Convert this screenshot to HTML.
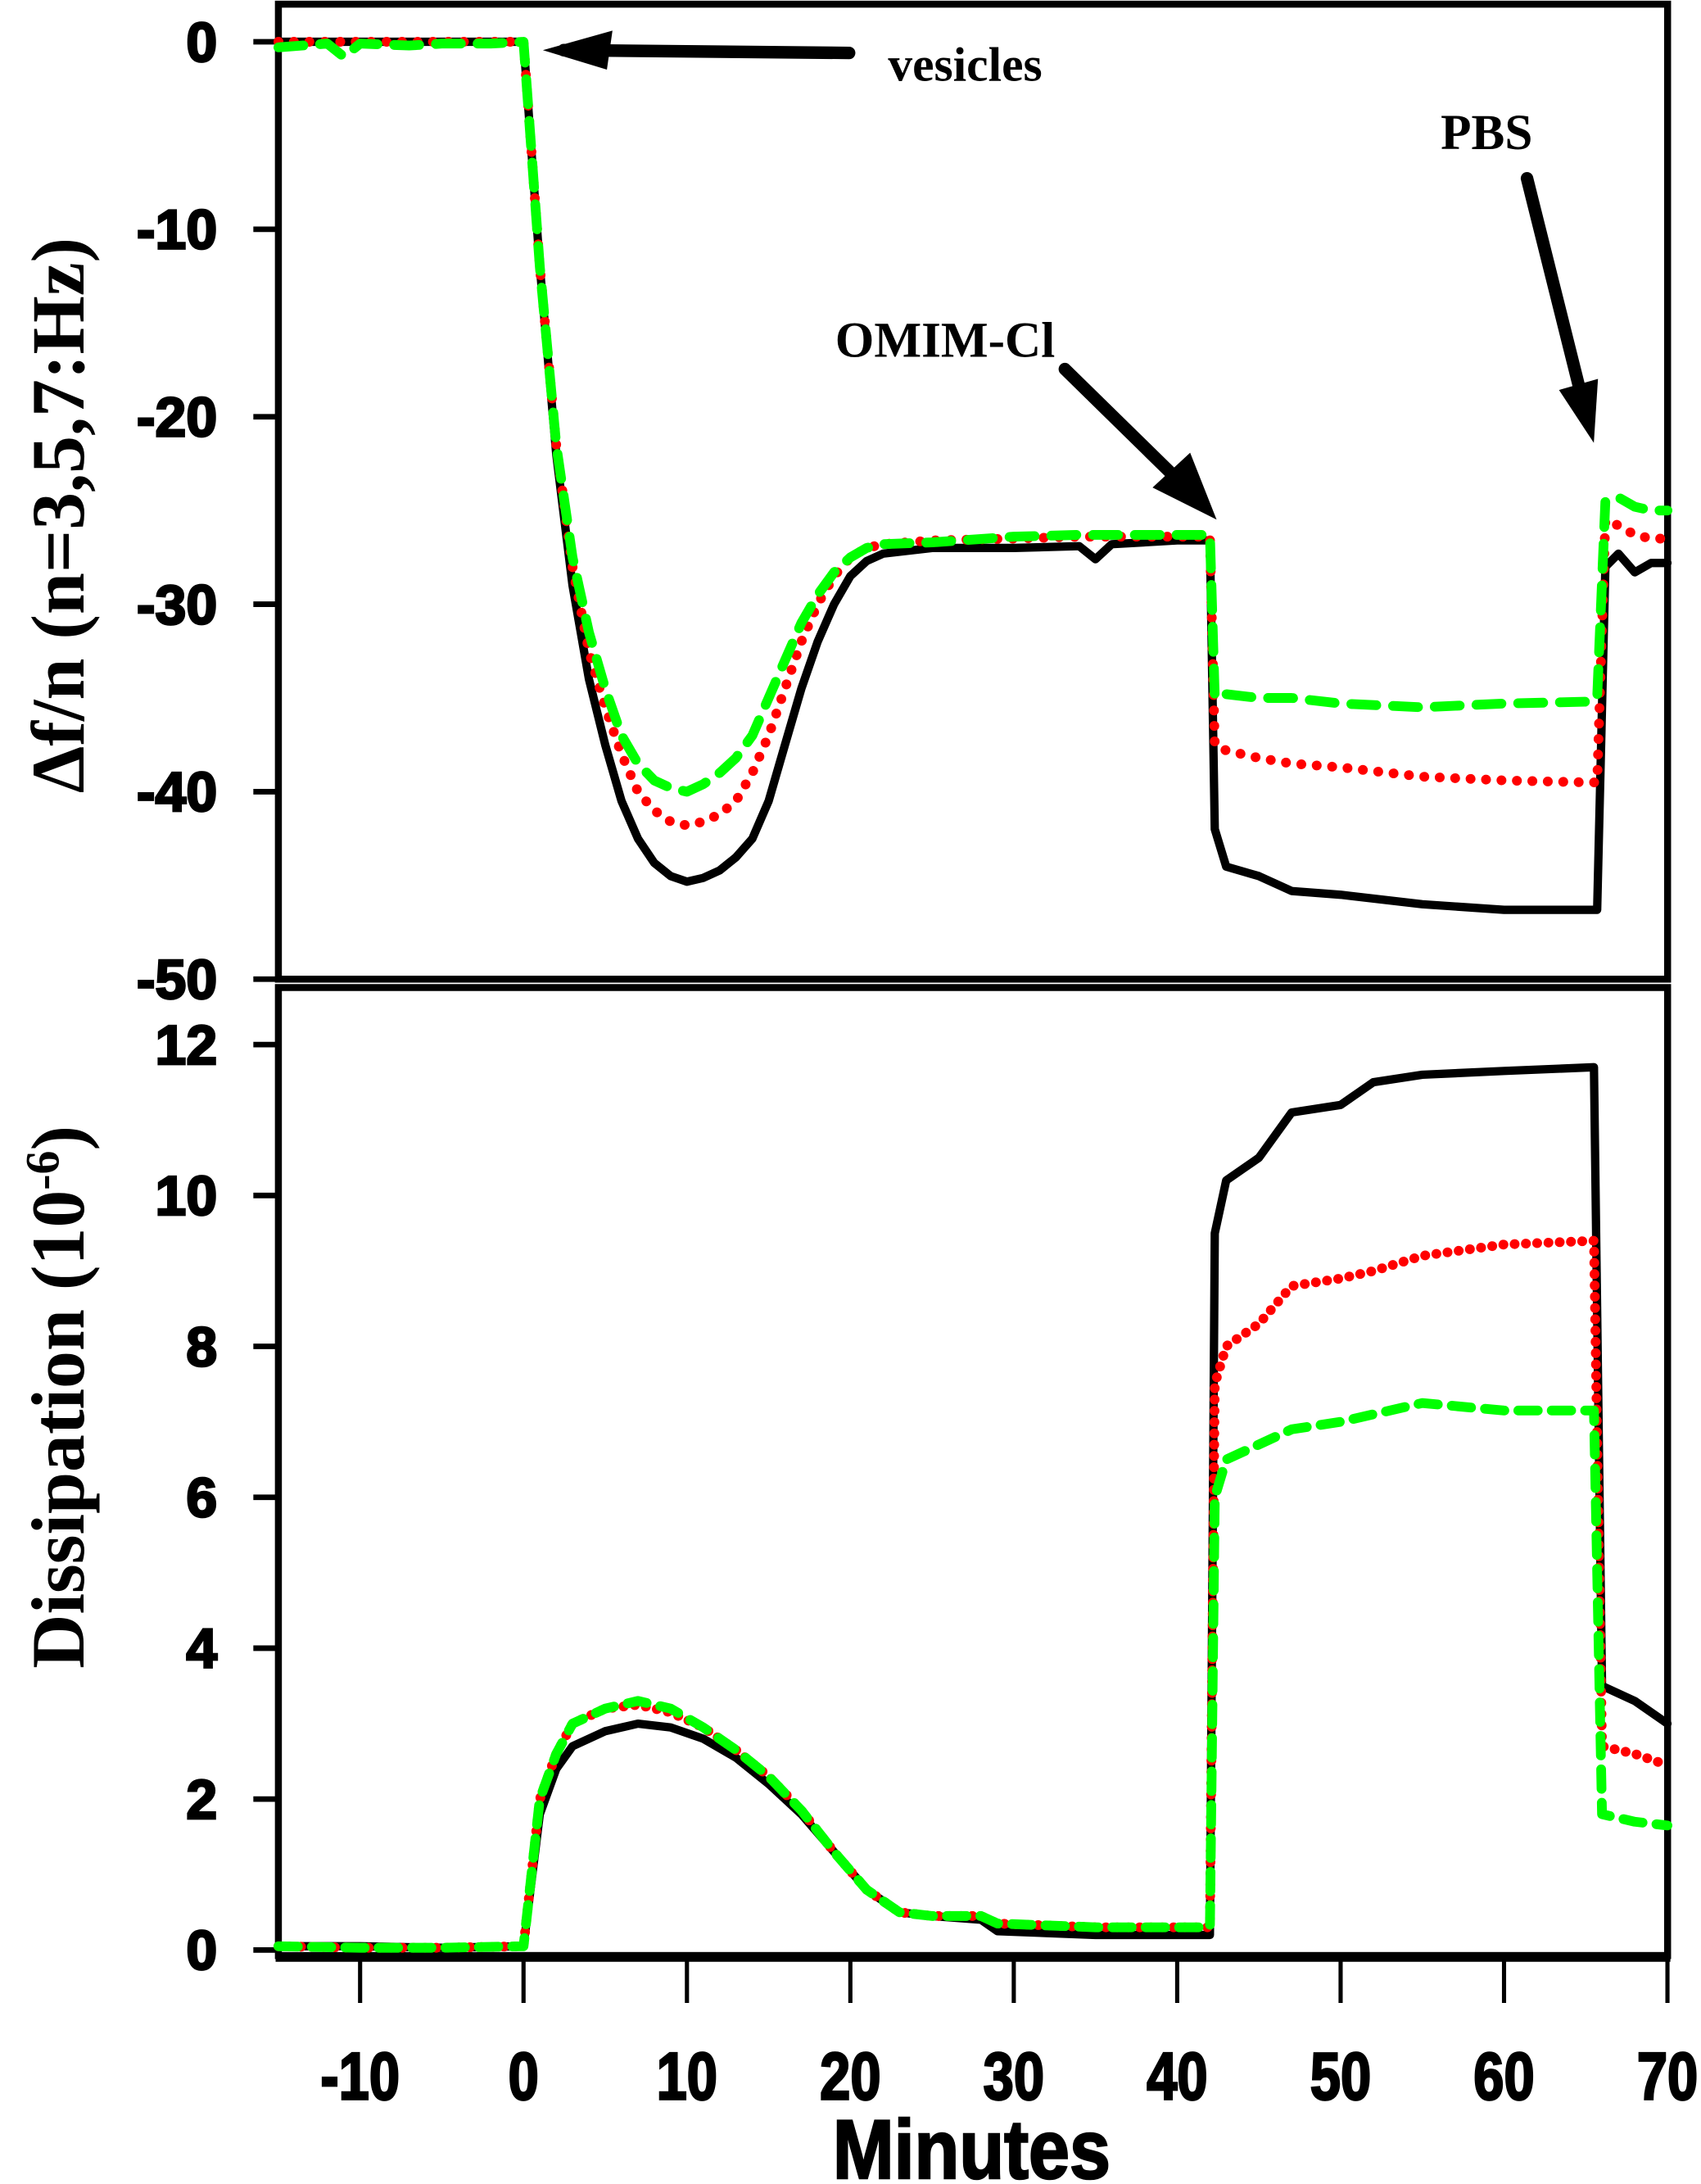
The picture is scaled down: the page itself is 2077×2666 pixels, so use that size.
<!DOCTYPE html>
<html><head><meta charset="utf-8">
<style>html,body{margin:0;padding:0;background:#fff}svg{display:block}</style></head>
<body>
<svg id="chart" xmlns="http://www.w3.org/2000/svg" width="2077" height="2666" viewBox="0 0 1222 1568" preserveAspectRatio="none">
<g id="topPanel"></g>
<g id="botPanel"></g>
<g id="ann">
 <line x1="610" y1="38" x2="405" y2="36" stroke="#000" stroke-width="9" stroke-linecap="round"/>
 <polygon points="390,36 440,22 436,50" fill="#000"/>
 <text x="638" y="58" font-family="Liberation Serif,serif" font-weight="bold" font-size="35">vesicles</text>
 <text x="600" y="256" font-family="Liberation Serif,serif" font-weight="bold" font-size="36">OMIM-Cl</text>
 <line x1="765" y1="265" x2="862" y2="360" stroke="#000" stroke-width="9" stroke-linecap="round"/>
 <polygon points="874,373 828,350 855,325" fill="#000"/>
 <text x="1035" y="107" font-family="Liberation Serif,serif" font-weight="bold" font-size="36">PBS</text>
 <line x1="1097" y1="128" x2="1140" y2="300" stroke="#000" stroke-width="9" stroke-linecap="round"/>
 <polygon points="1145,318 1120,280 1148,272" fill="#000"/>
</g>
</svg>
<script>
const timeF = [-15,-12,-11,-10,-7,-5,-2,0,1,2,3,4,5,6,7,8,9,10,11,12,13,14,15,16,17,18,19,20,21,22,25,30,34,35,36,40,42,42.3,43,45,47,50,55,60,65,65.7,66.2,67,68,69,70];
const freqBlack = [0,0,0,0,0,0,0,0,-12,-22,-29,-34,-37.5,-40.5,-42.5,-43.8,-44.5,-44.8,-44.6,-44.2,-43.5,-42.5,-40.5,-37.5,-34.5,-32,-30,-28.5,-27.7,-27.3,-27.0,-27,-26.9,-27.6,-26.8,-26.6,-26.6,-42,-44,-44.5,-45.3,-45.5,-46,-46.3,-46.3,-46.3,-28,-27.3,-28.3,-27.8,-27.8];
const freqRed = [0,0,0,0,0,0,0,0,-12,-21.5,-28,-32.5,-35.5,-38,-40,-41,-41.6,-41.8,-41.6,-41.2,-40.5,-39,-37,-34.5,-32,-30,-28.5,-27.5,-27,-26.8,-26.6,-26.5,-26.4,-26.4,-26.4,-26.4,-26.4,-37.5,-37.8,-38.2,-38.5,-38.7,-39.2,-39.4,-39.5,-39.5,-25.5,-25.8,-26.3,-26.5,-26.5];
const freqGreen = [-0.3,-0.1,-0.8,-0.1,-0.2,-0.1,-0.1,0,-12,-21.5,-27.5,-31.5,-34.5,-37,-38.5,-39.4,-39.8,-40,-39.6,-39,-38.2,-37,-35,-33,-31,-29.5,-28.3,-27.5,-27,-26.8,-26.7,-26.4,-26.3,-26.3,-26.3,-26.3,-26.3,-35,-34.8,-35,-35,-35.3,-35.5,-35.3,-35.2,-35,-24.5,-24.3,-24.8,-25,-25];
const timeD = [-15,-10,-5,0,1,2,3,5,7,9,11,13,15,17,19,21,23,25,28,29,35,42,42.3,43,45,47,50,52,55,60,65.5,66,68,70];
const dissBlack = [0.05,0.05,0.03,0.05,1.8,2.4,2.7,2.9,3.0,2.95,2.8,2.55,2.2,1.8,1.3,0.8,0.5,0.45,0.4,0.25,0.2,0.2,9.5,10.2,10.5,11.1,11.2,11.5,11.6,11.65,11.7,3.5,3.3,3.0];
const dissRed = [0.05,0.03,0.03,0.05,2.0,2.6,3.0,3.2,3.25,3.15,2.95,2.65,2.3,1.85,1.3,0.8,0.5,0.45,0.45,0.35,0.3,0.3,7.5,8.0,8.3,8.8,8.9,9.0,9.2,9.35,9.4,2.7,2.6,2.45];
const dissGreen = [0.05,0.03,0.03,0.05,2.0,2.6,3.0,3.2,3.3,3.2,2.95,2.65,2.3,1.85,1.3,0.8,0.5,0.45,0.45,0.35,0.3,0.3,6.0,6.5,6.7,6.9,7.0,7.1,7.25,7.15,7.15,1.8,1.7,1.65];
const xTicks = [-10,0,10,20,30,40,50,60,70];
const fTicks = [0,-10,-20,-30,-40,-50];
const dTicks = [0,2,4,6,8,10,12];

const NS='http://www.w3.org/2000/svg';
const X = t => 200 + (t + 15) * 11.74;
const YF = v => 30 - v * 13.46;
const YD = v => 1400 - v * 54.17;
function mk(tag, attrs, parent){const e=document.createElementNS(NS,tag);for(const k in attrs)e.setAttribute(k,attrs[k]);parent.appendChild(e);return e;}
const topG=document.getElementById('topPanel'), botG=document.getElementById('botPanel');
const tickFont={'font-family':'Liberation Sans,sans-serif','font-weight':'bold','stroke':'#000','stroke-width':1.6};

function series(parent, xs, ys, Y, color, dash, w, name){
  const d = xs.map((t,i)=>(i?'L':'M')+X(t).toFixed(1)+','+Y(ys[i]).toFixed(1)).join(' ');
  const p = mk('path',{d:d,fill:'none',stroke:color,'stroke-width':w,'stroke-linejoin':'round','stroke-linecap':'round'},parent);
  if(dash) p.setAttribute('stroke-dasharray',dash);
  
  
}
function txt(parent, attrs, s){const t=mk('text',Object.assign({},tickFont,attrs),parent);t.textContent=s;return t;}

const f1=mk('rect',{x:200,y:3,width:998,height:700,fill:'none',stroke:'#000','stroke-width':5},topG);


fTicks.forEach(v=>{
  const l=mk('line',{x1:182,x2:200,y1:YF(v),y2:YF(v),stroke:'#000','stroke-width':4},topG);
  
  
  const t=txt(topG,{x:156,y:YF(v)+14,'text-anchor':'end','font-size':40},v);
  
  
});
const yt1=mk('text',{transform:'translate(60,370) rotate(-90)','text-anchor':'middle','font-family':'Liberation Serif,serif','font-weight':'bold','font-size':54},topG);
yt1.textContent='Δf/n (n=3,5,7:Hz)';


series(topG,timeF,freqBlack,YF,'#000',null,6,'freq-n3-line');
series(topG,timeF,freqRed,YF,'#f00','0.1 11',7,'freq-n5-line');
series(topG,timeF,freqGreen,YF,'#0f0','18 12',7,'freq-n7-line');

const f2=mk('rect',{x:200,y:709,width:998,height:695,fill:'none',stroke:'#000','stroke-width':5},botG);


mk('line',{x1:198,x2:1200,y1:1405,y2:1405,stroke:'#000','stroke-width':7},botG);
dTicks.forEach(v=>{
  const l=mk('line',{x1:182,x2:200,y1:YD(v),y2:YD(v),stroke:'#000','stroke-width':4},botG);
  
  
  const t=txt(botG,{x:156,y:YD(v)+14,'text-anchor':'end','font-size':40},v);
  
  
});
const yt2=mk('text',{transform:'translate(60,1003) rotate(-90)','text-anchor':'middle','font-family':'Liberation Serif,serif','font-weight':'bold','font-size':54},botG);
yt2.innerHTML='Dissipation (10<tspan dy="-18" font-size="34">-6</tspan><tspan dy="18">)</tspan>';


xTicks.forEach(v=>{
  const l=mk('line',{x1:X(v),x2:X(v),y1:1407,y2:1438,stroke:'#000','stroke-width':3},botG);
  
  
  const t=txt(botG,{x:X(v),y:1507,'text-anchor':'middle','font-size':48,transform:'translate('+X(v)+',0) scale(0.82,1) translate('+(-X(v))+',0)'},v);
  
  
});
const xt=mk('text',{x:698,y:1564,'text-anchor':'middle','font-family':'Liberation Sans,sans-serif','font-weight':'bold','font-size':60,stroke:'#000','stroke-width':1.5,transform:'translate(698,0) scale(0.88,1) translate(-698,0)'},botG);
xt.textContent='Minutes';


series(botG,timeD,dissBlack,YD,'#000',null,6,'diss-n3-line');
series(botG,timeD,dissRed,YD,'#f00','0.1 8',7,'diss-n5-line');
series(botG,timeD,dissGreen,YD,'#0f0','14 10',7,'diss-n7-line');
</script>
</body></html>
